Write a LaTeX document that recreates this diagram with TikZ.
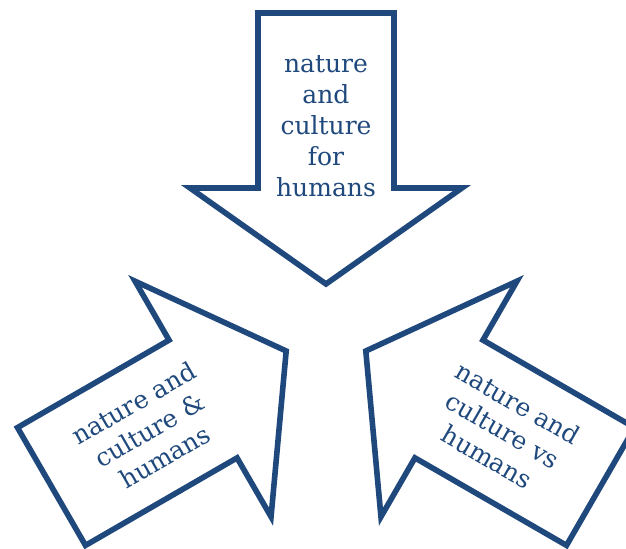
\documentclass[tikz,border=0pt]{standalone}
\usepackage{fontspec}
\setmainfont{DejaVu Serif}
\usepackage{tikz}
\usetikzlibrary{positioning}
\definecolor{arrowblue}{RGB}{31,73,125}

\tikzset{
  bigarrow/.style={draw=arrowblue, line width=2.8pt, fill=white},
  arrowtext/.style={text=arrowblue, align=center, inner sep=0pt, font=\fontsize{12.5}{15.5}\selectfont}
}

\begin{document}
\begin{tikzpicture}[x=0.5pt, y=0.5pt]

\useasboundingbox (0,0) rectangle (626,549);

% tail centre x/y, direction of the arrow, turn of its text
\foreach \name/\tx/\ty/\dir/\turn/\txt in {
  top/326/536/-90/0/{nature\\and\\culture\\for\\humans},
  left/51.5/62.5/30/30/{nature and\\culture \&\\humans},
  right/600.5/62.5/150/-30/{nature and\\culture vs\\humans}}
{
  \begin{scope}[shift={(\tx,\ty)}, rotate=\dir]
    \draw [bigarrow] (0,-68) -- (175,-68) -- (175,-136) -- (271,0) -- (175,136) -- (175,68) -- (0,68) -- cycle;
    \node [arrowtext, rotate=\turn] (label-\name) at (113,0) {\txt};
  \end{scope}
}

\end{tikzpicture}
\end{document}
